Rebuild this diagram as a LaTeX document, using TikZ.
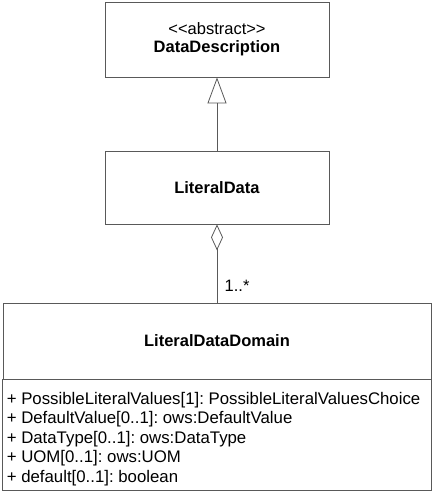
\documentclass[tikz,border=0pt]{standalone}
\usepackage{fontspec}
\setmainfont{Liberation Sans}
\usetikzlibrary{arrows.meta,positioning}
\definecolor{umlline}{rgb}{0.35,0.35,0.35}
\frenchspacing
\tikzset{
  classbox/.style={draw=umlline,line width=0.8pt,fill=white,minimum width=224pt,inner sep=0pt,align=center,font=\fontsize{16.5}{18}\selectfont},
  attrtext/.style={inner sep=0pt,align=left,anchor=north west,font=\fontsize{16.8}{19.5}\selectfont},
  genline/.style={draw=umlline,line width=0.8pt,-{Triangle[open,length=26pt,width=19pt]}},
  aggline/.style={draw=umlline,line width=0.8pt,{Diamond[open,length=26pt,width=12pt]}-}
}
\begin{document}
\begin{tikzpicture}[x=1pt,y=-1pt]
  \useasboundingbox (0,0) rectangle (436,500);
  % classes
  \node[classbox,minimum height=75pt] (desc) at (217,39.5) {{<}{<}abstract{>}{>}\\\textbf{DataDescription}};
  \node[classbox,minimum height=73pt] (data) at (217,187.5) {\textbf{LiteralData}};
  \node[classbox,minimum width=428pt,minimum height=76pt] (domain) at (217,341) {\textbf{LiteralDataDomain}};
  % attribute compartment
  \draw[umlline,line width=0.8pt] (domain.south west) rectangle (domain.east |- 0,490);
  \node[attrtext] (attrs) at ([xshift=4pt,yshift=-12.7pt]domain.south west) {%
    + PossibleLiteralValues[1]: PossibleLiteralValuesChoice\\
    + DefaultValue[0..1]: ows:DefaultValue\\
    + DataType[0..1]: ows:DataType\\
    + UOM[0..1]: ows:UOM\\
    + default[0..1]: boolean};
  % relations
  \draw[genline] (data.north) -- (desc.south);
  \draw[aggline] (data.south) -- node[pos=0.78,right=4pt,font=\fontsize{16.5}{18}\selectfont] (mult) {1..*} (domain.north);
\end{tikzpicture}
\end{document}
